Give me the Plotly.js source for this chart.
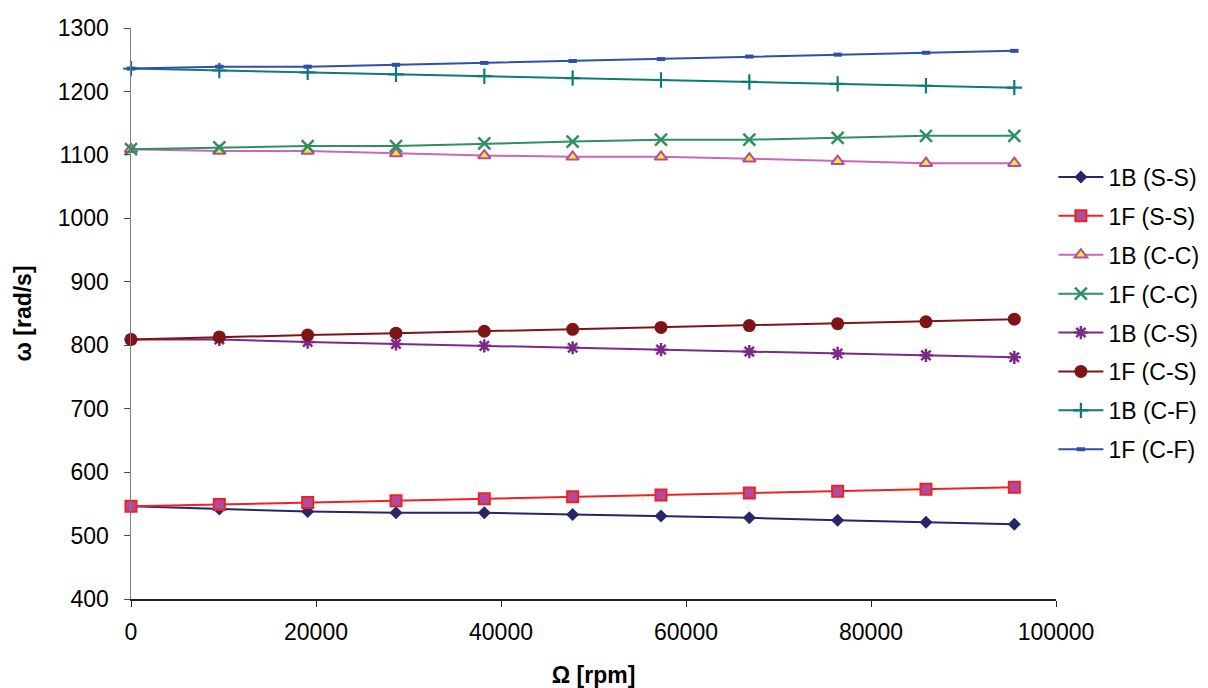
<!DOCTYPE html>
<html>
<head>
<meta charset="utf-8">
<script src="https://cdn.plot.ly/plotly-3.0.1.min.js"></script>
<style>html,body{margin:0;padding:0;background:#fff;}#chart{width:1208px;height:688px;}</style>
</head>
<body>
<div id="chart"></div>
<script>
const speedRpm = [0, 9549, 19099, 28648, 38197, 47746, 57296, 66845, 76394, 85944, 95493];

const b_SS = [546, 542, 538, 536, 536, 533, 531, 528, 524, 521, 518];
const f_SS = [546, 549, 552, 555, 558, 561, 564, 567, 570, 573, 576];
const b_CC = [1109, 1106, 1106, 1102, 1099, 1097, 1097, 1094, 1090, 1087, 1087];
const f_CC = [1109, 1112, 1114, 1114, 1118, 1121, 1124, 1124, 1127, 1130, 1130];
const b_CS = [809, 809, 805, 802, 799, 796, 793, 790, 787, 784, 781];
const f_CS = [809, 813, 816, 819, 822, 825, 828, 831, 834, 837, 841];
const b_CF = [1236, 1233, 1230, 1227, 1224, 1221, 1218, 1215, 1212, 1209, 1206];
const f_CF = [1236, 1239, 1239, 1242, 1245, 1248, 1251, 1255, 1258, 1261, 1264];

const seriesNames = ['1B (S-S)', '1F (S-S)', '1B (C-C)', '1F (C-C)', '1B (C-S)', '1F (C-S)', '1B (C-F)', '1F (C-F)'];
const seriesData = [b_SS, f_SS, b_CC, f_CC, b_CS, f_CS, b_CF, f_CF];

const styles = [
  {line: '#262669', marker: {symbol: 'diamond', size: 10, color: '#262669', line: {width: 0}}},
  {line: '#ee2222', marker: {symbol: 'square', size: 11, color: '#b04ca0', line: {width: 2, color: '#ee2222'}}},
  {line: '#cc66bb', marker: {symbol: 'triangle-up', size: 11, color: '#f0e830', line: {width: 2, color: '#b84aa0'}}},
  {line: '#2e9060', marker: {symbol: 'x-thin', size: 12, color: '#2e9060', line: {width: 2.5, color: '#2e9060'}}},
  {line: '#7b2a8a', marker: {symbol: 'asterisk', size: 11, color: '#7b2a8a', line: {width: 2.5, color: '#7b2a8a'}}},
  {line: '#7f1416', marker: {symbol: 'circle', size: 13, color: '#7f1416', line: {width: 0}}},
  {line: '#0e7a7a', marker: {symbol: 'cross-thin', size: 11, color: '#0e7a7a', line: {width: 2.2, color: '#0e7a7a'}}},
  {line: '#3050a8', marker: {symbol: 'line-ew', size: 6, color: '#3050a8', line: {width: 4, color: '#3050a8'}}}
];

const traces = seriesNames.map((name, i) => ({
  x: speedRpm,
  y: seriesData[i],
  name: name,
  legendgroup: 'g' + i,
  type: 'scatter',
  mode: 'lines+markers',
  line: {color: styles[i].line, width: 2},
  marker: styles[i].marker,
  cliponaxis: false
}));

const layout = {
  width: 1208,
  height: 688,
  paper_bgcolor: '#ffffff',
  plot_bgcolor: '#ffffff',
  margin: {l: 131, r: 152, t: 28, b: 89, autoexpand: false},
  font: {family: 'Liberation Sans, Arial, sans-serif', size: 24, color: '#000'},
  showlegend: true,
  legend: {
    xref: 'container', x: 0.872, xanchor: 'left', y: 0.5, yanchor: 'middle',
    font: {size: 23, color: '#000'},
    itemwidth: 45,
    tracegroupgap: 6,
    bgcolor: 'rgba(0,0,0,0)'
  },
  xaxis: {
    range: [0, 100000],
    tickvals: [0, 20000, 40000, 60000, 80000, 100000],
    ticktext: ['0', '20000', '40000', '60000', '80000', '100000'],
    showgrid: false, zeroline: false,
    showline: true, linecolor: '#222', linewidth: 1.5,
    ticks: 'outside', ticklen: 6, tickcolor: '#222',
    ticklabelstandoff: 6,
    tickfont: {size: 23},
    title: {text: '<b>Ω [rpm]</b>', font: {size: 23}, standoff: 26}
  },
  yaxis: {
    range: [400, 1300],
    tickvals: [400, 500, 600, 700, 800, 900, 1000, 1100, 1200, 1300],
    showgrid: false, zeroline: false,
    showline: true, linecolor: '#7f7f7f', linewidth: 1.5,
    ticks: 'outside', ticklen: 6, tickcolor: '#444',
    ticklabelstandoff: 10,
    tickfont: {size: 23},
    title: {text: '<b>ω [rad/s]</b>', font: {size: 23}, standoff: 19}
  }
};

Plotly.newPlot('chart', traces, layout, {displayModeBar: false, staticPlot: true});
</script>
</body>
</html>
